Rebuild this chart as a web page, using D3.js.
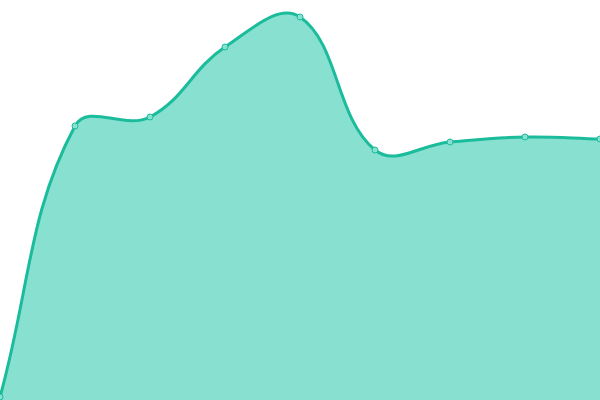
<!DOCTYPE html>
<html><head><meta charset="utf-8">
<script src="https://cdn.jsdelivr.net/npm/d3@7"></script>
<style>html,body{margin:0;padding:0;background:#fff;}svg{display:block;}</style>
</head><body>
<script>
const categories = [0,1,2,3,4,5,6,7,8];
const values = [3, 274, 283, 353, 383, 250, 258, 263, 261];

const W = 600, H = 400;
const tension = 0.4;
const svg = d3.select("body").append("svg").attr("width", W).attr("height", H);
const x = d3.scaleLinear().domain([0, categories.length - 1]).range([0, W]);
const y = d3.scaleLinear().domain([0, 400]).range([H, 0]);
const pts = categories.map((c, i) => ({x: x(c), y: y(values[i])}));

// Distance-weighted spline control points
const clampX = v => Math.max(0, Math.min(W, v));
const clampY = v => Math.max(0, Math.min(H, v));
pts.forEach((cur, i) => {
  const prev = pts[i - 1] || cur, next = pts[i + 1] || cur;
  const d01 = Math.hypot(cur.x - prev.x, cur.y - prev.y);
  const d12 = Math.hypot(next.x - cur.x, next.y - cur.y);
  let s01 = d01 / (d01 + d12), s12 = d12 / (d01 + d12);
  if (isNaN(s01)) s01 = 0; if (isNaN(s12)) s12 = 0;
  const fa = tension * s01, fb = tension * s12;
  cur.c1x = clampX(cur.x - fa * (next.x - prev.x));
  cur.c1y = clampY(cur.y - fa * (next.y - prev.y));
  cur.c2x = clampX(cur.x + fb * (next.x - prev.x));
  cur.c2y = clampY(cur.y + fb * (next.y - prev.y));
});
function build(p) {
  p.moveTo(pts[0].x, pts[0].y);
  for (let i = 1; i < pts.length; i++) {
    const a = pts[i - 1], b = pts[i];
    p.bezierCurveTo(a.c2x, a.c2y, b.c1x, b.c1y, b.x, b.y);
  }
  return p;
}
const ap = build(d3.path());
ap.lineTo(pts[pts.length - 1].x, y(0));
ap.lineTo(pts[0].x, y(0));
ap.closePath();
svg.append("path").attr("fill", "#88e0d0").attr("d", ap.toString());
svg.append("path").attr("fill", "none").attr("stroke", "#1abc9c").attr("stroke-width", 3)
  .attr("d", build(d3.path()).toString());
svg.selectAll("circle").data(pts).join("circle")
  .attr("cx", d => d.x).attr("cy", d => d.y).attr("r", 3)
  .attr("fill", "#88e0d0").attr("stroke", "#1abc9c").attr("stroke-width", 1);
</script>
</body></html>
